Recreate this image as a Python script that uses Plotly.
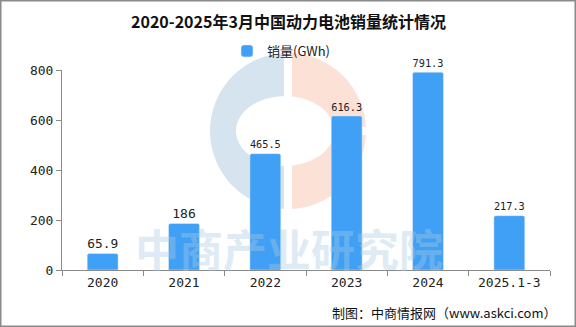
import math
import plotly.graph_objects as go

categories = ["2020", "2021", "2022", "2023", "2024", "2025.1-3"]
sales = [65.9, 186, 465.5, 616.3, 791.3, 217.3]
labels = ["65.9", "186", "465.5", "616.3", "791.3", "217.3"]
y_ticks = [0, 200, 400, 600, 800]

title_text = "2020-2025年3月中国动力电池销量统计情况"
series_name = "销量(GWh)"
footer_text = "制图：中商情报网（www.askci.com）"
watermark_text = "中商产业研究院"

W, H = 576, 327
ML, MR, MT, MB = 62, 26, 70, 57
PW, PH = W - ML - MR, H - MT - MB
font_cjk = "Noto Sans CJK SC, Noto Sans, sans-serif"
font_mono = "DejaVu Sans Mono, monospace"


def px(x):
    return (x - ML) / PW


def py(y):
    return (H - MB - y) / PH


fig = go.Figure()
fig.add_trace(go.Bar(
    x=categories, y=sales, name=series_name,
    marker=dict(color="#3FA0F5", cornerradius=2),
    text=labels, textposition="outside", cliponaxis=False,
    textfont=dict(size=13, color="#222222", family=font_mono),
    width=0.38,
))

cx, cy, r = 288, 131, 78
shapes = [
    dict(type="circle", xref="paper", yref="paper", layer="below",
         x0=px(cx - r), x1=px(cx + r), y0=py(cy + r), y1=py(cy - r),
         fillcolor="#FBE1D6", line=dict(width=0)),
    dict(type="rect", xref="paper", yref="paper", layer="below",
         x0=px(cx - r - 2), x1=px(cx), y0=py(cy + r + 2), y1=py(cy - r - 2),
         fillcolor="white", line=dict(width=0)),
]
pts = []
for i in range(0, 41):
    a = math.pi / 2 + math.pi * i / 40
    pts.append((cx + r * math.cos(a), cy - r * math.sin(a)))
path = "M " + " L ".join(f"{px(x):.5f},{py(y):.5f}" for x, y in pts) + " Z"
shapes.append(dict(type="path", xref="paper", yref="paper", layer="below",
                   path=path, fillcolor="#D5E4EE", line=dict(width=0)))
shapes.append(dict(type="circle", xref="paper", yref="paper", layer="below",
                   x0=px(cx - 52), x1=px(cx + 46), y0=py(cy + 35), y1=py(cy - 35),
                   fillcolor="white", line=dict(width=0)))
shapes.append(dict(type="rect", xref="paper", yref="paper", layer="below",
                   x0=px(cx - 4), x1=px(cx + 4), y0=py(cy + r + 2), y1=py(cy - r - 2),
                   fillcolor="white", line=dict(width=0)))
shapes.append(dict(type="rect", xref="paper", yref="paper", layer="below",
                   x0=px(cx), x1=px(cx + r + 2), y0=py(cy + 4), y1=py(cy - 4),
                   fillcolor="white", line=dict(width=0)))
# outer image border
shapes.append(dict(type="rect", xref="paper", yref="paper", layer="above",
                   x0=px(0.75), x1=px(W - 0.75), y0=py(H - 0.75), y1=py(0.75),
                   line=dict(color="#8A8A8A", width=1.5), fillcolor="rgba(0,0,0,0)"))

annotations = [
    dict(text=f"<b>{title_text}</b>", x=px(288), y=py(21), xref="paper", yref="paper",
         showarrow=False, font=dict(size=16, color="#111111", family=font_cjk),
         xanchor="center", yanchor="middle"),
    dict(text=footer_text, x=px(559), y=py(312), xref="paper", yref="paper",
         showarrow=False, font=dict(size=13, color="#111111", family=font_cjk),
         xanchor="right", yanchor="middle"),
    dict(text=f"<b>{watermark_text}</b>", x=px(289), y=py(248), xref="paper", yref="paper",
         showarrow=False, font=dict(size=44, color="rgba(170,202,226,0.4)", family=font_cjk),
         xanchor="center", yanchor="middle"),
]

fig.update_layout(
    width=W, height=H,
    margin=dict(l=ML, r=MR, t=MT, b=MB),
    paper_bgcolor="white", plot_bgcolor="rgba(0,0,0,0)",
    shapes=shapes,
    annotations=annotations,
    showlegend=True,
    legend=dict(orientation="h", x=px(227), xanchor="left", y=py(51), yanchor="middle",
                xref="paper", yref="paper", itemwidth=30,
                font=dict(size=13, color="#222222", family=font_cjk),
                bgcolor="rgba(0,0,0,0)"),
    bargap=0.62,
    xaxis=dict(
        showline=True, linecolor="#8A8A8A", linewidth=1,
        ticks="outside", tickson="boundaries", ticklen=5, tickcolor="#8A8A8A",
        tickfont=dict(size=13, color="#222222", family=font_mono),
        showgrid=False,
    ),
    yaxis=dict(
        range=[0, 800], tickvals=y_ticks,
        showline=True, linecolor="#8A8A8A", linewidth=1,
        ticks="outside", ticklen=5, tickcolor="#8A8A8A",
        tickfont=dict(size=13, color="#222222", family=font_mono),
        showgrid=False, zeroline=False,
    ),
)

fig.write_html("out.html")
